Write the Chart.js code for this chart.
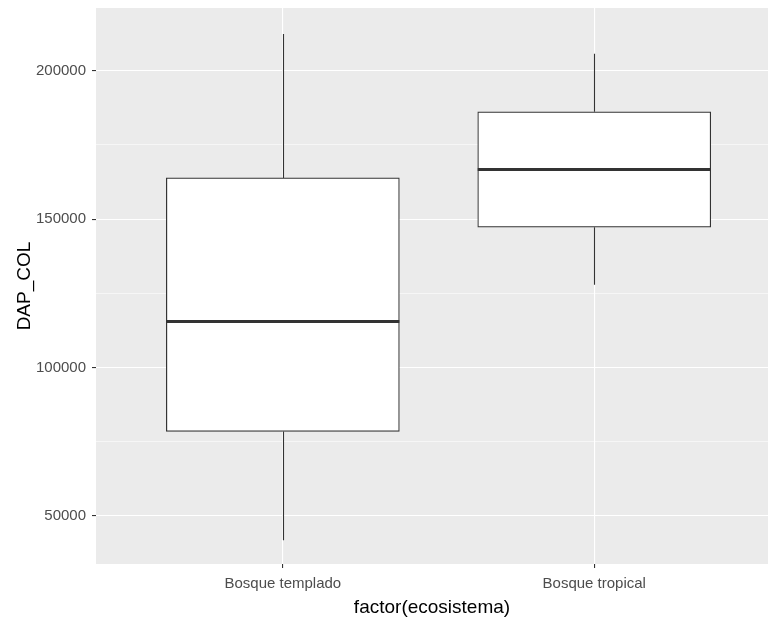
<!DOCTYPE html>
<html>
<head>
<meta charset="utf-8">
<script src="https://cdn.jsdelivr.net/npm/chart.js@4"></script>
<style>
  html, body { margin: 0; padding: 0; background: #fff; overflow: hidden; }
  #wrap { width: 768px; height: 620px; }
</style>
</head>
<body>
<div id="wrap"><canvas id="boxChart" width="768" height="620"></canvas></div>
<script>
// values
const categories = ["Bosque templado", "Bosque tropical"];
const minVals = [41700, 127900];
const q1Vals = [78400, 147300];
const medianVals = [115500, 166700];
const q3Vals = [163900, 186200];
const maxVals = [212400, 205800];
const yTicks = [50000, 75000, 100000, 125000, 150000, 175000, 200000];
const yMajor = [50000, 100000, 150000, 200000];

const boxData = categories.map((c, i) => ({ x: i + 1, y: [q1Vals[i], q3Vals[i]] }));
const font = "Arial, 'Liberation Sans', sans-serif";

// grey panel behind the plot
const panelBg = {
  id: "panelBg",
  beforeDraw(chart) {
    const a = chart.chartArea, ctx = chart.ctx;
    ctx.save();
    ctx.fillStyle = "#EBEBEB";
    ctx.fillRect(a.left, a.top, a.right - a.left, a.bottom - a.top);
    ctx.restore();
  }
};

// whiskers and median lines, positioned through the chart scales
const boxParts = {
  id: "boxParts",
  beforeDatasetsDraw(chart) {
    const x = chart.scales.x, y = chart.scales.y, ctx = chart.ctx;
    ctx.save();
    ctx.strokeStyle = "#333333";
    ctx.lineWidth = 1.1;
    categories.forEach((c, i) => {
      const px = Math.round(x.getPixelForValue(i + 1)) + 0.5;
      ctx.beginPath();
      ctx.moveTo(px, y.getPixelForValue(maxVals[i]));
      ctx.lineTo(px, y.getPixelForValue(q3Vals[i]));
      ctx.moveTo(px, y.getPixelForValue(q1Vals[i]));
      ctx.lineTo(px, y.getPixelForValue(minVals[i]));
      ctx.stroke();
    });
    ctx.restore();
  },
  afterDatasetsDraw(chart) {
    const x = chart.scales.x, y = chart.scales.y, ctx = chart.ctx;
    const meta = chart.getDatasetMeta(0);
    ctx.save();
    ctx.strokeStyle = "#333333";
    ctx.lineWidth = 3;
    categories.forEach((c, i) => {
      const half = meta.data[i].width / 2;
      const cx = x.getPixelForValue(i + 1);
      const py = y.getPixelForValue(medianVals[i]);
      ctx.beginPath();
      ctx.moveTo(cx - half, py);
      ctx.lineTo(cx + half, py);
      ctx.stroke();
    });
    ctx.restore();
  }
};

const ctx = document.getElementById("boxChart").getContext("2d");
new Chart(ctx, {
  type: "bar",
  data: {
    datasets: [{
      data: boxData,
      backgroundColor: "#FFFFFF",
      borderColor: "#333333",
      borderWidth: 1.2,
      borderSkipped: false,
      barThickness: 233
    }]
  },
  options: {
    responsive: false,
    animation: false,
    layout: { padding: { top: 8, right: 0, bottom: 0, left: 0 } },
    plugins: { legend: { display: false }, tooltip: { enabled: false } },
    scales: {
      x: {
        type: "linear",
        min: 0.4,
        max: 2.558,
        offset: false,
        afterBuildTicks(scale) { scale.ticks = categories.map((c, i) => ({ value: i + 1 })); },
        afterFit(scale) {
          scale.height = 56;
          scale.paddingLeft = 0;
          scale.paddingRight = 0;
        },
        border: { display: false },
        grid: { offset: false, color: "#FFFFFF", lineWidth: 1.1, tickColor: "#333333", tickLength: 4 },
        ticks: {
          padding: 7,
          color: "#4D4D4D",
          maxRotation: 0,
          font: { family: font, size: 15 },
          callback: (v) => categories[v - 1] || ""
        },
        title: {
          display: true,
          text: "factor(ecosistema)",
          color: "#000000",
          padding: { top: 0, bottom: 1 },
          font: { family: font, size: 19 }
        }
      },
      y: {
        min: 33700,
        max: 221200,
        afterBuildTicks(scale) { scale.ticks = yTicks.map(v => ({ value: v })); },
        afterFit(scale) {
          scale.width = 96;
          scale.paddingTop = 0;
          scale.paddingBottom = 0;
        },
        border: { display: false },
        grid: {
          color: "#FFFFFF",
          lineWidth: (c) => yMajor.includes(c.tick.value) ? 1.1 : 0.55,
          tickColor: (c) => yMajor.includes(c.tick.value) ? "#333333" : "rgba(0,0,0,0)",
          tickLength: 4
        },
        ticks: {
          padding: 6,
          color: "#4D4D4D",
          font: { family: font, size: 15 },
          callback: (v) => yMajor.includes(v) ? String(v) : ""
        },
        title: {
          display: true,
          text: "DAP_COL",
          color: "#000000",
          padding: { top: 13, bottom: 0 },
          font: { family: font, size: 19 }
        }
      }
    }
  },
  plugins: [panelBg, boxParts]
});
</script>
</body>
</html>
